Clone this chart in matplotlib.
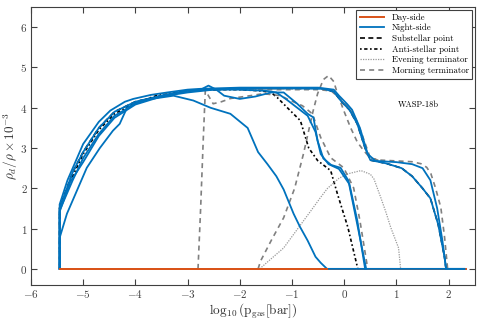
import numpy as np
import matplotlib.pyplot as plt

plt.rcParams['font.family'] = 'serif'
plt.rcParams['font.serif'] = ['cmr10']
plt.rcParams['mathtext.fontset'] = 'cm'
plt.rcParams['axes.formatter.use_mathtext'] = True

## dados lidos da figura
# lado diurno: tudo zero
dia_x = [-5.45, 2.33]
dia_y = [0, 0]

# lado noturno (varias curvas)
n1_x = [-5.45, -5.45, -5.3, -5.0, -4.7, -4.48, -4.2, -4.04, -3.7, -3.39, -3.0, -2.76, -2.0, -1.0, -0.5,
        -0.2, -0.1, 0.05, 0.15, 0.3, 0.45, 0.6, 1.0, 1.3, 1.5, 1.65, 1.78, 1.88, 1.95, 2.3]
n1_y = [0, 1.6, 2.2, 3.1, 3.65, 3.93, 4.15, 4.22, 4.32, 4.38, 4.45, 4.47, 4.5, 4.5, 4.5,
        4.45, 4.3, 4.1, 3.95, 3.5, 2.85, 2.68, 2.65, 2.6, 2.5, 2.2, 1.5, 0.7, 0, 0]

n2_x = [-5.45, -5.45, -5.2, -5.0, -4.7, -4.4, -4.0, -3.5, -3.0, -2.0, -1.0, -0.4, -0.2, -0.05, 0.1,
        0.25, 0.4, 0.5, 0.8, 1.1, 1.3, 1.5, 1.65, 1.8, 1.92, 1.95]
n2_y = [0, 1.5, 2.4, 2.9, 3.5, 3.9, 4.15, 4.3, 4.42, 4.48, 4.48, 4.47, 4.4, 4.15, 3.95,
        3.6, 3.0, 2.7, 2.62, 2.5, 2.3, 2.0, 1.75, 1.1, 0.3, 0]

n3_x = [-5.45, -5.45, -5.2, -5.0, -4.7, -4.4, -4.0, -3.5, -3.0, -2.75, -2.6, -2.45, -2.3, -2.0, -1.7,
        -1.4, -1.16, -0.9, -0.7, -0.59, -0.51, -0.4, -0.25, -0.07, 0.08, 0.25, 0.42]
n3_y = [0, 1.45, 2.2, 2.75, 3.35, 3.8, 4.1, 4.3, 4.42, 4.45, 4.55, 4.45, 4.3, 4.22, 4.28,
        4.38, 4.38, 4.1, 3.85, 3.76, 3.18, 2.74, 2.58, 2.51, 2.19, 1.1, 0]

n4_x = [-5.45, -5.45, -5.31, -4.93, -4.68, -4.43, -4.3, -4.16, -3.9, -3.27, -2.89, -2.56, -2.18, -1.85,
        -1.65, -1.47, -1.3, -1.16, -0.97, -0.85, -0.7, -0.55, -0.45, -0.33, 2.3]
n4_y = [0, 0.77, 1.37, 2.51, 3.0, 3.43, 3.6, 4.0, 4.18, 4.3, 4.18, 4.0, 3.85, 3.5,
        2.9, 2.6, 2.3, 1.97, 1.37, 1.05, 0.7, 0.3, 0.15, 0, 0]

n5_x = [-5.45, -5.45, -5.25, -5.0, -4.7, -4.4, -4.0, -3.5, -3.0, -2.5, -2.0, -1.5, -1.3, -1.1, -0.9,
        -0.7, -0.55, -0.45, -0.3, -0.1, 0.1, 0.25, 0.4]
n5_y = [0, 1.42, 2.15, 2.65, 3.3, 3.75, 4.08, 4.28, 4.38, 4.45, 4.45, 4.42, 4.38, 4.2, 4.0,
        3.8, 3.4, 2.85, 2.6, 2.48, 2.1, 1.2, 0]

# ponto subestelar (quase todo escondido)
sub_x = [-5.45, -5.45, -5.2, -5.0, -4.7, -4.4, -4.0, -3.5, -3.0, -2.0, -1.0, -0.4, -0.2, -0.05, 0.1,
         0.25, 0.4, 0.5, 0.8, 1.1, 1.3, 1.5, 1.65, 1.8, 1.92, 1.95]
sub_y = [0, 1.5, 2.4, 2.9, 3.5, 3.9, 4.15, 4.3, 4.42, 4.48, 4.48, 4.47, 4.4, 4.15, 3.95,
         3.6, 3.0, 2.7, 2.62, 2.5, 2.3, 2.0, 1.75, 1.1, 0.3, 0]

# ponto anti-estelar
anti_x = [-5.45, -5.45, -5.2, -5.0, -4.7, -4.4, -4.0, -3.6, -3.0, -2.5, -2.0, -1.6, -1.4, -1.28, -1.05,
          -0.84, -0.68, -0.51, -0.26, -0.13, 0.07, 0.26]
anti_y = [0, 1.55, 2.3, 2.85, 3.45, 3.85, 4.12, 4.3, 4.42, 4.45, 4.45, 4.42, 4.38, 4.25, 3.95,
          3.68, 3.0, 2.69, 2.44, 1.86, 1.03, 0]

# terminador vespertino
eve_x = [-1.62, -1.4, -1.16, -0.9, -0.64, -0.45, -0.32, -0.1, 0.07, 0.32, 0.5, 0.57, 0.7, 0.8,
         0.89, 1.04, 1.08]
eve_y = [0, 0.25, 0.52, 0.98, 1.44, 1.78, 2.0, 2.25, 2.36, 2.44, 2.35, 2.23, 1.77, 1.4,
         1.03, 0.52, 0]

# terminador matutino (tres curvas)
m1_x = [-2.8, -2.75, -2.7, -2.66, -2.51, -2.35, -2.18, -1.8, -1.55, -1.22, -1.03, -0.8, -0.61, -0.45,
        -0.26, -0.01, 0.18, 0.3, 0.45]
m1_y = [0, 1.5, 3.2, 4.43, 4.1, 4.15, 4.23, 4.3, 4.35, 4.3, 4.18, 4.05, 3.85, 3.26,
        2.76, 2.51, 2.01, 1.2, 0]

m2_x = [-1.65, -1.6, -1.4, -1.16, -0.95, -0.78, -0.6, -0.51, -0.4, -0.3, -0.2, -0.13, 0.0, 0.12,
        0.25, 0.37, 0.5, 0.7, 1.0, 1.3, 1.47, 1.58, 1.66, 1.75, 1.85, 1.92, 1.98]
m2_y = [0, 0.2, 0.7, 1.27, 2.0, 2.86, 3.9, 4.35, 4.7, 4.8, 4.65, 4.35, 3.9, 3.51,
        3.15, 2.94, 2.75, 2.7, 2.68, 2.66, 2.61, 2.52, 2.36, 2.0, 1.52, 0.8, 0]

m3_x = [-2.0, -1.0, -0.5, -0.25, -0.1, 0.05, 0.2, 0.35, 0.5, 0.7]
m3_y = [4.45, 4.45, 4.45, 4.42, 4.25, 4.05, 3.8, 3.3, 2.75, 2.68]

azul = '#0072BD'
laranja = '#D95319'

fig = plt.figure(figsize=(4.83, 3.22), dpi=100)
ax = fig.add_axes([0.064, 0.115, 0.919, 0.863])

ax.plot(dia_x, dia_y, color=laranja, lw=1.4, zorder=2, label='Day-side')
ax.plot(n1_x, n1_y, color=azul, lw=1.3, zorder=4, label='Night-side')
for xs, ys in [(n2_x, n2_y), (n3_x, n3_y), (n4_x, n4_y), (n5_x, n5_y)]:
    ax.plot(xs, ys, color=azul, lw=1.3, zorder=4)
ax.plot(dia_x[:1] + [-0.33], [0, 0], color=laranja, lw=1.4, zorder=5)

ax.plot(sub_x, sub_y, color='k', lw=1.2, ls=(0, (3, 2)), zorder=3, label='Substellar point')
ax.plot(anti_x, anti_y, color='k', lw=1.2, ls=(0, (1, 1.5, 2, 1.5)), zorder=3,
        label='Anti-stellar point')
ax.plot(eve_x, eve_y, color='#9a9a9a', lw=0.9, ls=(0, (1, 1)), zorder=3,
        label='Evening terminator')
ax.plot(m1_x, m1_y, color='#808080', lw=1.2, ls=(0, (3, 2.5)), zorder=3,
        label='Morning terminator')
ax.plot(m2_x, m2_y, color='#808080', lw=1.2, ls=(0, (3, 2.5)), zorder=3)
ax.plot(m3_x, m3_y, color='#808080', lw=1.2, ls=(0, (3, 2.5)), zorder=3)

ax.text(1.02, 4.03, 'WASP-18b', fontsize=6)

ax.set_xlim(-6, 2.5)
ax.set_ylim(-0.4, 6.5)
ax.set_xticks(range(-6, 3))
ax.set_yticks(range(0, 7))
ax.tick_params(direction='in', top=True, right=True, labelsize=8, length=4, pad=2.5,
               colors='#404040', labelcolor='#404040')
for s in ax.spines.values():
    s.set_color('#404040')
    s.set_linewidth(0.8)
ax.set_xlabel(r'$\log_{10}(\mathrm{p_{gas}[bar]})$', fontsize=9.5, color='#303030', labelpad=1)
ax.set_ylabel(r'$\rho_d/\rho\times10^{-3}$', fontsize=9.5, color='#303030', labelpad=0)

leg = ax.legend(loc='upper right', fontsize=6.4, fancybox=False, framealpha=1,
                edgecolor='#404040', handlelength=2.8, borderaxespad=0.3, labelspacing=0.25)
leg.get_frame().set_linewidth(0.8)

plt.savefig('out.png', dpi=100)
